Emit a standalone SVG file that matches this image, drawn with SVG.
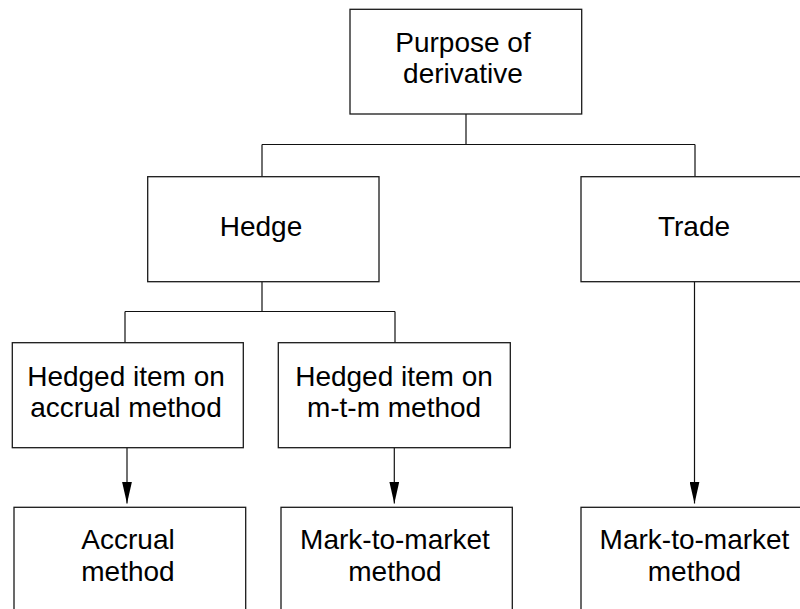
<svg xmlns="http://www.w3.org/2000/svg" width="800" height="609" viewBox="0 0 800 609">
<style>
.box{fill:#fff;stroke:#1a1a1a;stroke-width:1.3}
.ln{fill:none;stroke:#111;stroke-width:1.2}
text{font-family:"Liberation Sans",Arial,sans-serif;font-size:28px;fill:#000;text-anchor:middle}
</style>
<defs>
<marker id="ah" markerUnits="userSpaceOnUse" markerWidth="22" markerHeight="10" refX="22" refY="5" orient="auto" viewBox="0 0 22 10">
<path d="M0,0 L22,5 L0,10 Z" fill="#000"/>
</marker>
</defs>
<rect width="800" height="609" fill="#fff"/>
<g id="connectors">
<path class="ln" d="M466,114 V144.5 M262,144.5 H695 M262,144.5 V176.7 M695,144.5 V176.7"/>
<path class="ln" d="M262,281.7 V311.5 M125,311.5 H395 M125,311.5 V342.7 M395,311.5 V342.7"/>
<path class="ln" d="M127,447.7 V503.5" marker-end="url(#ah)"/>
<path class="ln" d="M394.3,447.7 V503.5" marker-end="url(#ah)"/>
<path class="ln" d="M694.5,281.7 V503.5" marker-end="url(#ah)"/>
</g>
<g id="purpose">
<rect class="box" x="350" y="9.3" width="231.7" height="104.7"/>
<text x="463" y="52">Purpose of</text>
<text x="463" y="83">derivative</text>
</g>
<g id="hedge">
<rect class="box" x="147.7" y="176.7" width="231.3" height="105"/>
<text x="261" y="235.7">Hedge</text>
</g>
<g id="trade">
<rect class="box" x="581" y="176.7" width="240" height="105"/>
<text x="694" y="235.7">Trade</text>
</g>
<g id="hedged-accrual">
<rect class="box" x="12.3" y="342.7" width="231" height="105"/>
<text x="126" y="385.7">Hedged item on</text>
<text x="126" y="416.7">accrual method</text>
</g>
<g id="hedged-mtm">
<rect class="box" x="278.3" y="342.7" width="232" height="105"/>
<text x="394" y="385.7">Hedged item on</text>
<text x="394" y="416.7">m-t-m method</text>
</g>
<g id="accrual">
<rect class="box" x="14" y="507.3" width="231.7" height="130"/>
<text x="128" y="549.3">Accrual</text>
<text x="128" y="581">method</text>
</g>
<g id="mtm1">
<rect class="box" x="281" y="507.3" width="231.3" height="130"/>
<text x="395" y="549.3">Mark-to-market</text>
<text x="395" y="581">method</text>
</g>
<g id="mtm2">
<rect class="box" x="581" y="507.3" width="240" height="130"/>
<text x="694.5" y="549.3">Mark-to-market</text>
<text x="694.5" y="581">method</text>
</g>
</svg>
